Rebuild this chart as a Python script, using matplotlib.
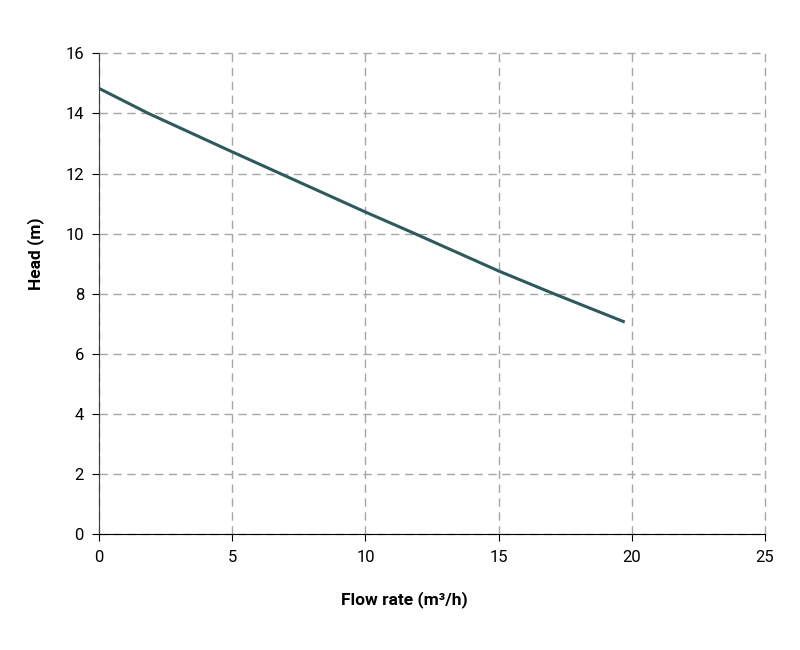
import numpy as np
import matplotlib.pyplot as plt

plt.rcParams['font.family'] = ['Roboto', 'DejaVu Sans']

# pump curve
flow = [0, 1.85, 5, 6.8, 10, 11.86, 15, 17.08, 19.74]
head = [14.83, 14.0, 12.72, 12.0, 10.72, 10.0, 8.76, 8.0, 7.06]

xticks = [0, 5, 10, 15, 20, 25]
yticks = [0, 2, 4, 6, 8, 10, 12, 14, 16]

fig = plt.figure(figsize=(8, 6.5), dpi=100)
ax = fig.add_axes([0.124, 0.178, 0.832, 0.74])

ax.plot(flow, head, color='#2e5a5b', linewidth=2.2, solid_capstyle='butt')

ax.set_xlim(0, 25)
ax.set_ylim(0, 16)
ax.set_xticks(xticks)
ax.set_yticks(yticks)
ax.grid(True, color='#a6a6a6', linestyle=(0, (6, 4)), linewidth=1)
ax.set_axisbelow(True)
for gl in ax.get_xgridlines() + ax.get_ygridlines():
    gl.set_clip_on(False)

for s in ['top', 'right']:
    ax.spines[s].set_visible(False)
ax.spines['left'].set_color('#404040')
ax.spines['bottom'].set_color('black')
ax.tick_params(direction='out', length=5, labelsize=12, pad=6)

# labels sit off-centre in the reference
ax.set_xlabel('Flow rate (m³/h)', fontsize=12.5, fontweight='semibold')
ax.xaxis.set_label_coords(0.458, -0.118)
ax.set_ylabel('Head (m)', fontsize=12.5, fontweight='semibold')
ax.yaxis.set_label_coords(-0.083, 0.584)

fig.savefig('out.png', dpi=100)
